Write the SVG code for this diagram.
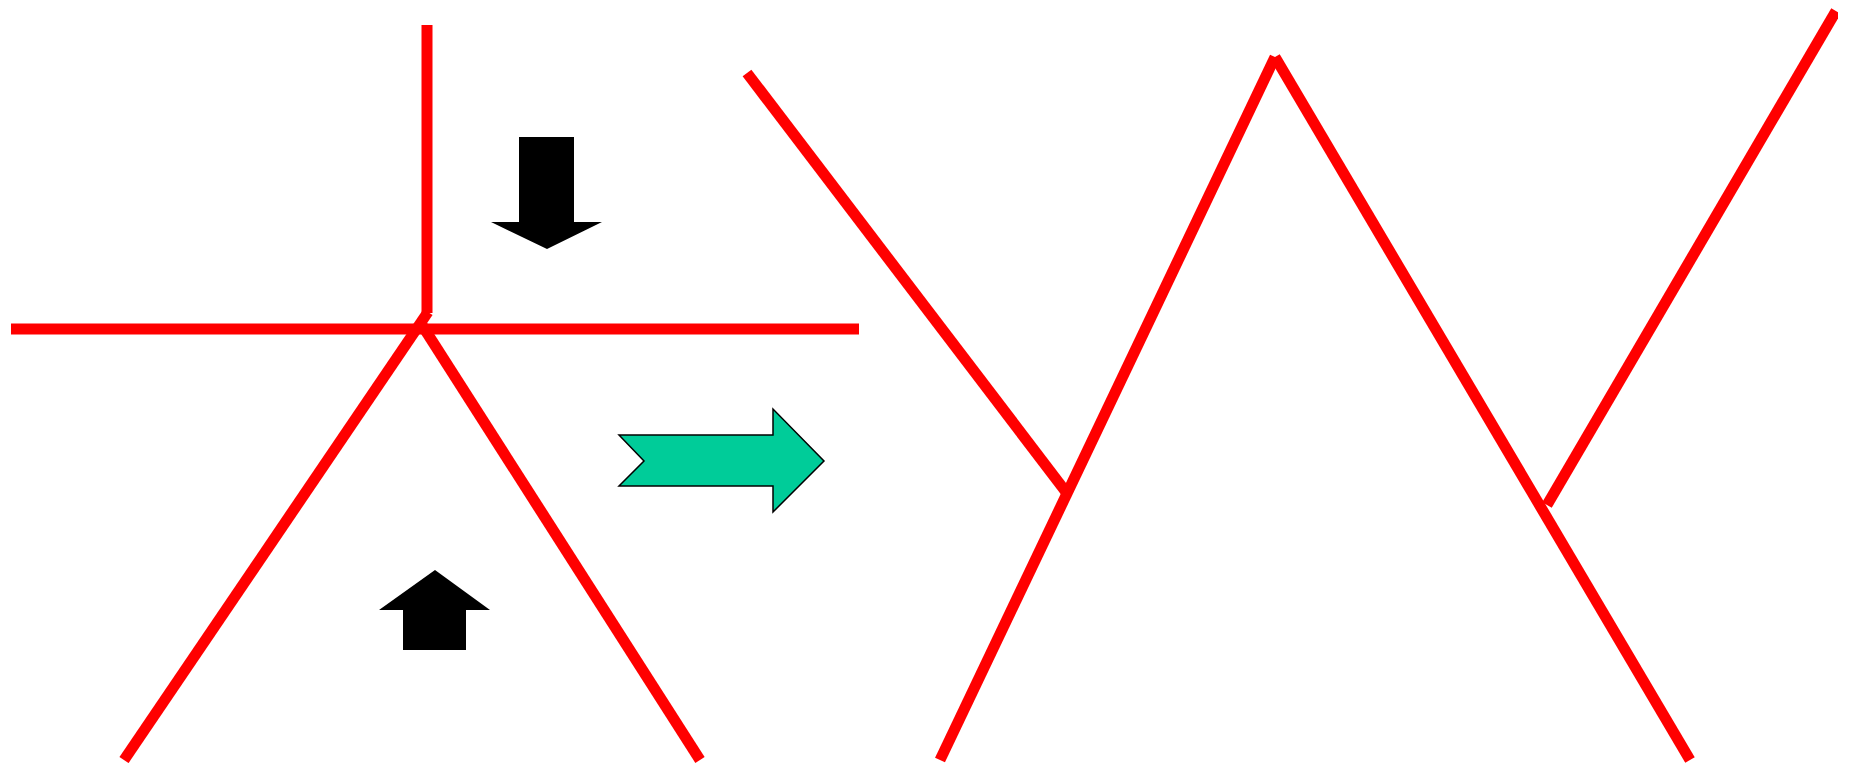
<svg xmlns="http://www.w3.org/2000/svg" width="1850" height="763" viewBox="0 0 1850 763">
<style>
.ln{stroke:#FF0000;stroke-width:11;fill:none;stroke-linecap:butt}
.blk{fill:#000000;stroke:none}
.grn{fill:#00CC99;stroke:#000000;stroke-width:1.5;stroke-linejoin:miter}
</style>
<defs>
<clipPath id="edge"><rect x="0" y="0" width="1838" height="763"/></clipPath>
</defs>
<rect width="1850" height="763" fill="#FFFFFF"/>
<g id="connectors">
<line class="ln" x1="427" y1="25" x2="427" y2="313"/>
<line class="ln" x1="11" y1="329" x2="859" y2="329"/>
<line class="ln" x1="428" y1="312" x2="124" y2="760"/>
<line class="ln" x1="420" y1="322" x2="700" y2="760"/>
<line class="ln" x1="747" y1="73" x2="1066" y2="492"/>
<line class="ln" x1="940" y1="760" x2="1275" y2="57"/>
<line class="ln" x1="1275" y1="57" x2="1690" y2="760"/>
<line class="ln" x1="1547" y1="505" x2="1836" y2="11" clip-path="url(#edge)"/>
</g>
<g id="down-arrow">
<polygon class="blk" points="519,137 574,137 574,222 602,222 547,249 491,222 519,222"/>
</g>
<g id="up-arrow">
<polygon class="blk" points="435,570 490,610 466,610 466,650 403,650 403,610 379,610"/>
</g>
<g id="green-arrow">
<polygon class="grn" points="619,435 773,435 773,409 824,461 773,512 773,486 619,486 644,461"/>
</g>
</svg>
